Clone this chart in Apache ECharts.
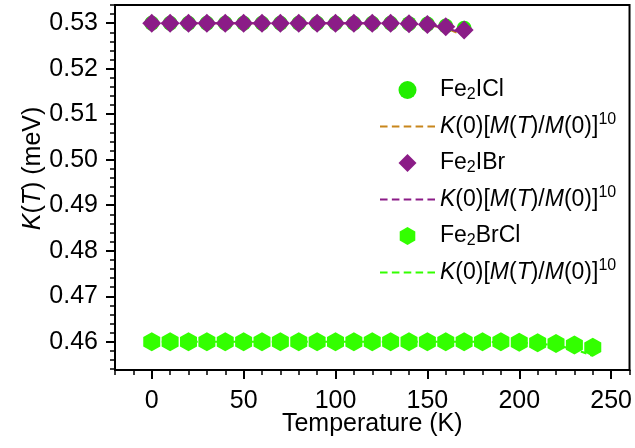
<!DOCTYPE html>
<html><head><meta charset="utf-8">
<script src="https://cdn.jsdelivr.net/npm/echarts@6/dist/echarts.min.js"></script>
<style>html,body{margin:0;padding:0;background:#fff}#c{width:635px;height:448px}</style>
</head><body><div id="c"></div>
<script>
// ---- data ----
const tempIBr = [0,10,20,30,40,50,60,70,80,90,100,110,120,130,140,150,160,170];
const kIBr   = [0.5300,0.5300,0.5300,0.5300,0.5300,0.5300,0.5300,0.5300,0.5300,0.5300,0.5300,0.5300,0.5300,0.5300,0.5299,0.5297,0.5292,0.5285];
const fitIBr = [0.5300,0.5300,0.5300,0.5300,0.5300,0.5300,0.5300,0.5300,0.5300,0.5300,0.5300,0.5300,0.5300,0.5300,0.5299,0.5297,0.5290,0.5277];
const tempICl = [0,10,20,30,40,50,60,70,80,90,100,110,120,130,140,150,160,170];
const kICl   = [0.5300,0.5300,0.5300,0.5300,0.5300,0.5300,0.5300,0.5300,0.5300,0.5300,0.5300,0.5300,0.5300,0.5300,0.5299,0.5298,0.5294,0.5289];
const fitICl = [0.5300,0.5300,0.5300,0.5300,0.5300,0.5300,0.5300,0.5300,0.5300,0.5300,0.5300,0.5300,0.5300,0.5300,0.5299,0.5296,0.5289,0.5273];
const tempBrCl = [0,10,20,30,40,50,60,70,80,90,100,110,120,130,140,150,160,170,180,190,200,210,220,230,240];
const kBrCl   = [0.4600,0.4600,0.4600,0.4600,0.4600,0.4600,0.4600,0.4600,0.4600,0.4600,0.4600,0.4600,0.4600,0.4600,0.4600,0.4600,0.4600,0.4600,0.4600,0.4600,0.4599,0.4598,0.4596,0.4593,0.4588];
const fitBrCl = [0.4600,0.4600,0.4600,0.4600,0.4600,0.4600,0.4600,0.4600,0.4600,0.4600,0.4600,0.4600,0.4600,0.4600,0.4600,0.4600,0.4600,0.4600,0.4600,0.4599,0.4598,0.4596,0.4592,0.4584,0.4569];
const xTicks = [0,50,100,150,200,250];
const xMinorTicks = [-20,-10,0,10,20,30,40,50,60,70,80,90,100,110,120,130,140,150,160,170,180,190,200,210,220,230,240,250,260];
const yTicks = [0.46,0.47,0.48,0.49,0.50,0.51,0.52,0.53];
const yMinorTicks = [0.454,0.456,0.458,0.460,0.462,0.464,0.466,0.468,0.470,0.472,0.474,0.476,0.478,0.480,0.482,0.484,0.486,0.488,0.490,0.492,0.494,0.496,0.498,0.500,0.502,0.504,0.506,0.508,0.510,0.512,0.514,0.516,0.518,0.520,0.522,0.524,0.526,0.528,0.530,0.532,0.534];

const FONT = '"Liberation Sans", Arial, sans-serif';
const GREEN = '#33ff00';
const GREEN2 = '#22ee00';
const PURPLE = '#8b1c87';
const ORANGE = '#c8861c';
const HEX = 'path://M0,-1L0.866,-0.5L0.866,0.5L0,1L-0.866,0.5L-0.866,-0.5Z';
const DIAM = 'path://M0,-1L1,0L0,1L-1,0Z';
const DASH = 'path://M0,0h7v2h-7zM11,0h7v2h-7zM22,0h7v2h-7zM33,0h7v2h-7zM44,0h7v2h-7z';

const pairs = (xs, ys) => xs.map((x, i) => [x, ys[i]]);
const fitLabel = '{i|K}{n|(0)[}{i|M}{n|(}{i|T}{n|)/}{i|M}{n|(0)]}{p|10}';
const names = {
  ICl: '{n|Fe}{s|2}{n|ICl}', fICl: fitLabel,
  IBr: '{n|Fe}{s|2}{n|IBr}', fIBr: fitLabel,
  BrCl: '{n|Fe}{s|2}{n|BrCl}', fBrCl: fitLabel
};
const LF = 23;

const chart = echarts.init(document.getElementById('c'), null, {renderer: 'canvas'});
chart.setOption({
  animation: false,
  backgroundColor: '#fff',
  grid: {left: 115, right: 5, top: 5, bottom: 78, show: true, borderColor: '#000', borderWidth: 2, backgroundColor: 'transparent'},
  xAxis: [{
    type: 'value', min: -20, max: 260, position: 'bottom',
    axisLine: {show: true, onZero: false, lineStyle: {color: '#000', width: 2}},
    axisTick: {show: true, length: 9, lineStyle: {color: '#000', width: 2}, customValues: xTicks},
    axisLabel: {customValues: xTicks, fontSize: 25, color: '#000', fontFamily: FONT, margin: 19},
    splitLine: {show: false},
    name: 'Temperature (K)', nameLocation: 'middle', nameGap: 42, nameMoveOverlap: false,
    nameTextStyle: {fontSize: 25, color: '#000', fontFamily: FONT}
  }, {
    type: 'value', min: -20, max: 260, position: 'bottom',
    axisLine: {show: false, onZero: false},
    axisTick: {show: true, length: 5, lineStyle: {color: '#000', width: 1.5}, customValues: xMinorTicks},
    axisLabel: {show: false}, splitLine: {show: false}
  }],
  yAxis: [{
    type: 'value', min: 0.4538, max: 0.5340, position: 'left',
    axisLine: {show: true, onZero: false, lineStyle: {color: '#000', width: 2}},
    axisTick: {show: true, length: 9, lineStyle: {color: '#000', width: 2}, customValues: yTicks},
    axisLabel: {customValues: yTicks, fontSize: 25, color: '#000', fontFamily: FONT, margin: 17, formatter: v => v.toFixed(2)},
    splitLine: {show: false},
    name: '{i|K}{n|(}{i|T}{n|) (meV)}', nameLocation: 'middle', nameGap: 69, nameMoveOverlap: false,
    nameTextStyle: {padding: [0, 0, 0, 38], rich: {
      n: {fontSize: 25, color: '#000', fontFamily: FONT},
      i: {fontSize: 25, color: '#000', fontFamily: FONT, fontStyle: 'italic'}
    }}
  }, {
    type: 'value', min: 0.4538, max: 0.5340, position: 'left',
    axisLine: {show: false, onZero: false},
    axisTick: {show: true, length: 5, lineStyle: {color: '#000', width: 1.5}, customValues: yMinorTicks},
    axisLabel: {show: false}, splitLine: {show: false}
  }],
  legend: {
    orient: 'vertical', left: 375, top: 70, itemWidth: 55, itemHeight: 18, itemGap: 6.5,
    selectedMode: false,
    data: [
      {name: 'ICl', icon: 'circle', itemStyle: {color: GREEN2}},
      {name: 'fICl', icon: DASH, itemStyle: {color: ORANGE}},
      {name: 'IBr', icon: DIAM, itemStyle: {color: PURPLE}},
      {name: 'fIBr', icon: DASH, itemStyle: {color: PURPLE}},
      {name: 'BrCl', icon: HEX, itemStyle: {color: GREEN}},
      {name: 'fBrCl', icon: DASH, itemStyle: {color: GREEN}}
    ],
    formatter: n => names[n],
    textStyle: {padding: [0, 0, 0, 0], lineHeight: 30, rich: {
      n: {fontSize: LF, color: '#000', fontFamily: FONT, lineHeight: 30},
      i: {fontSize: LF, color: '#000', fontFamily: FONT, fontStyle: 'italic', lineHeight: 30},
      s: {fontSize: 16, color: '#000', fontFamily: FONT, lineHeight: 30, padding: [10, 0, 0, 0]},
      p: {fontSize: 16, color: '#000', fontFamily: FONT, lineHeight: 30, padding: [0, 0, 14, 0]}
    }}
  },
  series: [
    {name: 'fICl', type: 'line', data: pairs(tempICl, fitICl), symbol: 'none', z: 2,
     lineStyle: {color: ORANGE, width: 2, type: [6, 4]}, itemStyle: {color: ORANGE}},
    {name: 'fIBr', type: 'line', data: pairs(tempIBr, fitIBr), symbol: 'none', z: 2,
     lineStyle: {color: PURPLE, width: 2, type: [6, 4]}, itemStyle: {color: PURPLE}},
    {name: 'fBrCl', type: 'line', data: pairs(tempBrCl, fitBrCl), symbol: 'none', z: 2,
     lineStyle: {color: GREEN, width: 2, type: [6, 4]}, itemStyle: {color: GREEN}},
    {name: 'ICl', type: 'scatter', data: pairs(tempICl, kICl), symbol: 'circle', symbolSize: 15, z: 3,
     itemStyle: {color: GREEN2, opacity: 1}},
    {name: 'IBr', type: 'scatter', data: pairs(tempIBr, kIBr), symbol: DIAM, symbolSize: [19, 19], z: 4,
     itemStyle: {color: PURPLE, opacity: 1}},
    {name: 'BrCl', type: 'scatter', data: pairs(tempBrCl, kBrCl), symbol: HEX, symbolSize: [17, 19], z: 4,
     itemStyle: {color: GREEN, opacity: 1}}
  ]
});
</script></body></html>
